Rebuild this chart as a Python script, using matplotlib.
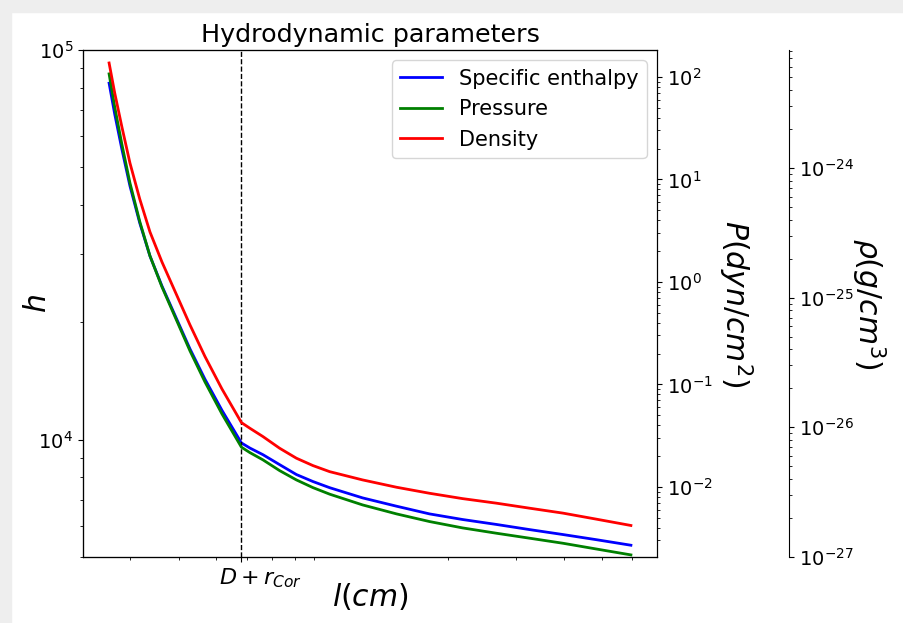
import numpy as np
import matplotlib.pyplot as plt
from matplotlib.patches import Rectangle
from matplotlib.ticker import NullFormatter
from matplotlib.transforms import ScaledTranslation

# distance along the jet (cm) and the three profiles
l_cm = [2.64e16, 2.73e16, 2.85e16, 2.99e16, 3.17e16, 3.37e16, 3.62e16, 3.91e16,
        4.28e16, 4.68e16, 5.18e16, 5.82e16, 6.12e16, 6.62e16, 7.31e16, 8.08e16,
        8.92e16, 9.86e16, 1.20e17, 1.47e17, 1.79e17, 2.18e17, 2.67e17, 3.25e17,
        3.97e17, 4.84e17, 5.96e17]
h = [8.22e4, 6.85e4, 5.56e4, 4.48e4, 3.60e4, 2.96e4, 2.48e4, 2.09e4,
     1.71e4, 1.43e4, 1.19e4, 9.81e3, 9.52e3, 9.15e3, 8.63e3, 8.14e3,
     7.81e3, 7.53e3, 7.09e3, 6.75e3, 6.45e3, 6.24e3, 6.06e3, 5.88e3,
     5.71e3, 5.54e3, 5.36e3]
P = [107.0, 50.9, 21.96, 9.24, 3.894, 1.793, 0.894, 0.4607,
     0.2122, 0.1058, 0.05156, 0.02439, 0.02161, 0.01834, 0.01442, 0.01170,
     0.00984, 0.00849, 0.00667, 0.00545, 0.00459, 0.00398, 0.00353, 0.00316,
     0.00282, 0.00248, 0.00217]
rho = [6.45e-24, 3.79e-24, 2.07e-24, 1.093e-24, 5.77e-25, 3.21e-25, 1.885e-25, 1.126e-25,
       6.16e-26, 3.52e-26, 1.977e-26, 1.087e-26, 9.84e-27, 8.48e-27, 6.90e-27, 5.78e-27,
       5.07e-27, 4.55e-27, 3.93e-27, 3.45e-27, 3.10e-27, 2.82e-27, 2.60e-27, 2.38e-27,
       2.18e-27, 1.96e-27, 1.75e-27]
D_rcor = 5.82e16

fig = plt.figure(figsize=(9.04, 6.23), dpi=100)
# grey page border seen on the top and left of the screenshot
fig.patches.append(Rectangle((0, 0), 11 / 904, 1, transform=fig.transFigure,
                             color='#eeeeee', zorder=-1))
fig.patches.append(Rectangle((0, 1 - 12 / 623), 1, 12 / 623, transform=fig.transFigure,
                             color='#eeeeee', zorder=-1))

ax = fig.add_axes([83 / 904, 66 / 623, 574 / 904, 507 / 623])
ax2 = ax.twinx()
ax3 = ax.twinx()
ax3.spines['right'].set_position(('axes', 1.23))

l1, = ax.plot(l_cm, h, color='b', lw=2, label='Specific enthalpy')
l2, = ax2.plot(l_cm, P, color='g', lw=2, label='Pressure')
l3, = ax3.plot(l_cm, rho, color='r', lw=2, label='Density')
ax.axvline(D_rcor, color='k', ls='--', lw=1)

ax.set_xscale('log')
ax.set_yscale('log')
ax2.set_yscale('log')
ax3.set_yscale('log')

ax.set_ylim(5e3, 1e5)
ax2.set_ylim(2.07e-3, 183)
ax3.set_ylim(1e-27, 8.12e-24)

ax.set_xticks([D_rcor])
ax.set_xticklabels([r'$D + r_{Cor}$'])
ax.xaxis.set_minor_formatter(NullFormatter())
ax.tick_params(axis='x', labelsize=16)
# the label sits a little right of its tick in the original
for lbl in ax.get_xticklabels():
    lbl.set_transform(lbl.get_transform() + ScaledTranslation(0.19, 0, fig.dpi_scale_trans))
for a in (ax, ax2, ax3):
    a.yaxis.set_minor_formatter(NullFormatter())
    a.tick_params(axis='y', labelsize=14)

ax.set_title('Hydrodynamic parameters', fontsize=18.3)
ax.set_xlabel(r'$l(cm)$', fontsize=21.5)
ax.xaxis.set_label_coords(0.5, -0.047)
ax.set_ylabel(r'$h$', fontsize=21.5)
ax.yaxis.set_label_coords(-0.054, 0.5)
ax2.set_ylabel(r'$P(dyn/cm^2)$', fontsize=21.5, rotation=270, labelpad=30)
ax3.set_ylabel(r'$\rho(g/cm^3)$', fontsize=21.5, rotation=270, labelpad=24)

ax3.legend([l1, l2, l3], [l1.get_label(), l2.get_label(), l3.get_label()],
           loc='upper right', fontsize=15)

fig.savefig('out.png', dpi=100)
